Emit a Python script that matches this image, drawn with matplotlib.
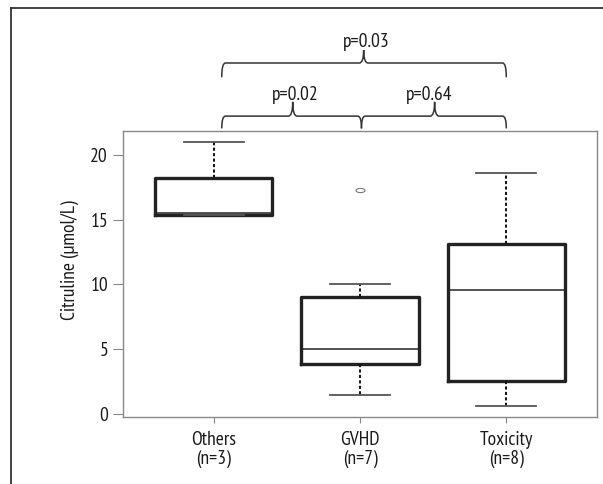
import numpy as np
import matplotlib
matplotlib.use('Agg')
import matplotlib.pyplot as plt
from matplotlib.path import Path
from matplotlib.patches import PathPatch
from matplotlib.markers import MarkerStyle
from matplotlib.transforms import Affine2D

plt.rcParams['font.family'] = ['PT Sans Narrow', 'DejaVu Sans']

# box stats (umol/L)
groups = ['Others\n(n=3)', 'GVHD\n(n=7)', 'Toxicity\n(n=8)']
whislo = [15.35, 1.5, 0.6]
q1 = [15.4, 3.85, 2.55]
med = [15.5, 5.0, 9.55]
q3 = [18.25, 9.05, 13.1]
whishi = [21.0, 10.0, 18.6]
fliers = [[], [17.3], []]

# p-values for the comparisons
pvals = ['p=0.03', 'p=0.02', 'p=0.64']

fig = plt.figure(figsize=(6.03, 4.84), dpi=100)
ax = fig.add_axes([123/603, 67/484, 474/603, 286/484])

stats = []
for i in range(3):
    stats.append(dict(med=med[i], q1=q1[i], q3=q3[i], whislo=whislo[i],
                      whishi=whishi[i], fliers=fliers[i]))

ell = MarkerStyle('o', transform=Affine2D().scale(1.4, 0.65))
ax.bxp(stats, positions=[1, 2, 3], widths=0.8, patch_artist=False,
       boxprops=dict(color='#222222', lw=2.4),
       medianprops=dict(color='#222222', lw=1.1),
       whiskerprops=dict(color='#111111', lw=1.4, linestyle=(0, (1.6, 1.2))),
       capprops=dict(color='#555555', lw=1.3),
       capwidths=0.41,
       flierprops=dict(marker=ell, markersize=4.6, markerfacecolor='none',
                       markeredgecolor='#777777', markeredgewidth=0.8))

ax.set_xlim(0.38, 3.62)
ax.set_ylim(-0.23, 21.85)
ax.set_yticks([0, 5, 10, 15, 20])
ax.set_xticks([1, 2, 3])
ax.set_xticklabels(groups, fontsize=14, linespacing=1.05)
ax.tick_params(axis='y', labelsize=14, length=7.2, width=0.8, color='#888888',
               pad=3.5, labelcolor='#1a1a1a')
ax.tick_params(axis='x', length=4.3, width=0.8, color='#888888', pad=6,
               labelcolor='#1a1a1a')
for s in ax.spines.values():
    s.set_color('#888888')
    s.set_linewidth(1.0)
ax.set_ylabel('Citruline (µmol/L)', fontsize=14, color='#1a1a1a')
ax.yaxis.set_label_coords(-0.093, 0.55)


def brace(x0, x1, xt, yh, yend, ytip):
    dx = 0.025
    dt = 0.03
    verts = [(x0, yend), (x0, yh), (x0 + dx, yh),
             (xt - dt, yh), (xt, yh), (xt, ytip),
             (xt, yh), (xt + dt, yh),
             (x1 - dx, yh), (x1, yh), (x1, yend)]
    codes = [Path.MOVETO, Path.CURVE3, Path.CURVE3,
             Path.LINETO, Path.CURVE3, Path.CURVE3,
             Path.CURVE3, Path.CURVE3,
             Path.LINETO, Path.CURVE3, Path.CURVE3]
    ax.add_patch(PathPatch(Path(verts, codes), fill=False, lw=1.1,
                           edgecolor='#333333', clip_on=False))


# outer brace
brace(1.055, 3.0, 2.025, 27.1, 26.0, 28.1)
ax.text(2.04, 28.35, pvals[0], ha='center', va='baseline', fontsize=14,
        color='#1a1a1a')
# inner braces
brace(1.055, 2.01, 1.54, 23.0, 22.05, 24.1)
brace(2.01, 3.0, 2.51, 23.0, 22.05, 24.1)
ax.text(1.56, 24.25, pvals[1], ha='center', va='baseline', fontsize=14,
        color='#1a1a1a')
ax.text(2.47, 24.25, pvals[2], ha='center', va='baseline', fontsize=14,
        color='#1a1a1a')

# outer frame (cut off at right and bottom)
fx = 11/603
fy = 1 - 8/484
fig.add_artist(plt.Line2D([fx, fx], [-0.01, fy], transform=fig.transFigure,
                          color='#333333', lw=1.3))
fig.add_artist(plt.Line2D([fx, 1.01], [fy, fy], transform=fig.transFigure,
                          color='#333333', lw=1.3))

fig.savefig('out.png', dpi=100)
